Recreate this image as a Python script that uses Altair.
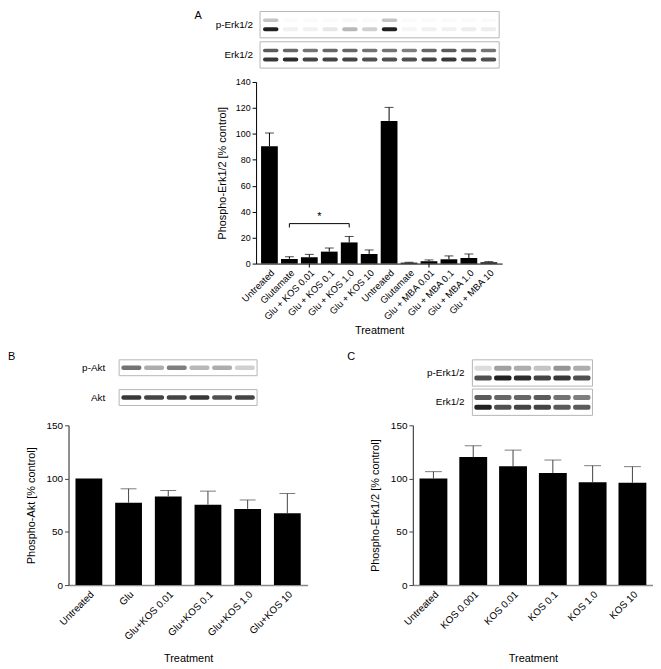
import json
import altair as alt
import pandas as pd

FONT = "Liberation Sans"

# ---------------- Panel A data ----------------
a_labels = ["Untreated", "Glutamate", "Glu + KOS 0.01", "Glu + KOS 0.1", "Glu + KOS 1.0",
            "Glu + KOS 10", "Untreated", "Glutamate", "Glu + MBA 0.01", "Glu + MBA 0.1",
            "Glu + MBA 1.0", "Glu + MBA 10"]
a_values = [90.5, 3.6, 4.8, 9.2, 16.3, 7.4, 110, 0.7, 1.8, 3.3, 4.3, 1.0]
a_sem = [10.2, 1.7, 2.3, 2.8, 4.6, 3.1, 10.4, 0.3, 1.0, 2.6, 3.1, 0.5]
a_sig_from, a_sig_to, a_sig_y, a_sig_drop = 1, 4, 30.8, 27.8
a_group_ticks = [2, 8]

a_blot_rows = ["p-Erk1/2", "Erk1/2"]
a_perk_upper = [0.25, 0.02, 0.02, 0.02, 0.03, 0.02, 0.25, 0.02, 0.02, 0.02, 0.02, 0.02]
a_perk_lower = [0.95, 0.06, 0.06, 0.1, 0.3, 0.2, 0.95, 0.04, 0.06, 0.06, 0.08, 0.08]
a_erk_upper = [0.7, 0.65, 0.6, 0.65, 0.65, 0.6, 0.6, 0.55, 0.65, 0.7, 0.65, 0.6]
a_erk_lower = [0.85, 0.9, 0.8, 0.8, 0.8, 0.75, 0.75, 0.75, 0.8, 0.85, 0.8, 0.75]

# ---------------- Panel B data ----------------
b_labels = ["Untreated", "Glu", "Glu+KOS 0.01", "Glu+KOS 0.1", "Glu+KOS 1.0", "Glu+KOS 10"]
b_values = [100, 77.4, 83.2, 75.5, 71.5, 67.4]
b_sem = [0, 13.0, 5.6, 12.7, 8.4, 18.6]
b_blot_rows = ["p-Akt", "Akt"]
b_pakt = [0.6, 0.35, 0.55, 0.3, 0.35, 0.2]
b_akt = [0.85, 0.8, 0.8, 0.85, 0.75, 0.8]

# ---------------- Panel C data ----------------
c_labels = ["Untreated", "KOS 0.001", "KOS 0.01", "KOS 0.1", "KOS 1.0", "KOS 10"]
c_values = [100, 120.2, 111.5, 105.3, 96.6, 96.0]
c_sem = [6.5, 10.6, 15.2, 12.1, 15.5, 15.2]
c_blot_rows = ["p-Erk1/2", "Erk1/2"]
c_perk_upper = [0.15, 0.4, 0.35, 0.25, 0.45, 0.35]
c_perk_lower = [0.75, 0.95, 0.9, 0.8, 0.85, 0.75]
c_erk_upper = [0.7, 0.65, 0.65, 0.7, 0.6, 0.55]
c_erk_lower = [0.95, 0.75, 0.8, 0.8, 0.7, 0.7]


def bar_panel(labels, values, sems, width, height, ymax, ystep, pi, po, ytitle,
              cap, err_color, xdom_color, xdom_width, ydom_color, ydom_width,
              ylab_size, ytitle_pad, xtitle_pad, xlab_size):
    df = pd.DataFrame({"key": list(range(len(labels))), "value": values, "sem": sems})
    df["hi"] = df["value"] + df["sem"]
    label_expr = json.dumps(labels) + "[datum.value]"
    xenc = alt.X("key:O",
                 scale=alt.Scale(paddingInner=pi, paddingOuter=po),
                 axis=alt.Axis(title="Treatment", labelExpr=label_expr, labelAngle=-45,
                               ticks=False, labelOverlap=False, labelFlush=False,
                               domainColor=xdom_color, domainWidth=xdom_width,
                               labelPadding=4, titlePadding=xtitle_pad,
                               labelFontSize=xlab_size, titleFontSize=11))
    yscale = alt.Scale(domain=[0, ymax], nice=False)
    yaxis = alt.Axis(title=ytitle, values=list(range(0, ymax + 1, ystep)), tickSize=4,
                     tickColor=ydom_color, domainColor=ydom_color, domainWidth=ydom_width,
                     labelPadding=2, labelFontSize=ylab_size, titleFontSize=11,
                     titlePadding=ytitle_pad, grid=False)
    base = alt.Chart(df).encode(x=xenc)
    bars = base.mark_bar(color="black").encode(
        y=alt.Y("value:Q", scale=yscale, axis=yaxis))
    rule = base.mark_rule(color=err_color, strokeWidth=1).encode(
        y=alt.Y("value:Q", scale=yscale, axis=yaxis), y2="hi:Q"
    ).transform_filter("datum.sem > 0")
    caps = base.mark_tick(color=err_color, size=cap, thickness=1).encode(
        y=alt.Y("hi:Q", scale=yscale, axis=yaxis)
    ).transform_filter("datum.sem > 0")
    return [bars, rule, caps], xenc, yscale, yaxis


def blot_panel(rows, band_df, sub_style, width, height, L, R, row_pi,
               lane_pi, lane_po, label_gap, letter, letter_x, letter_y):
    """sub_style: {sub: (offset from box centre, band thickness)}"""
    rowscale = alt.Scale(domain=rows, paddingInner=row_pi, paddingOuter=0)
    df_rows = pd.DataFrame({"row": rows})
    box = alt.Chart(df_rows).mark_rect(fill="white", stroke="#b5b5b5", strokeWidth=1).encode(
        x=alt.value(L), x2=alt.value(R),
        y=alt.Y("row:N", scale=rowscale, axis=None))
    band_layers = []
    for sub, (off, thick) in sub_style.items():
        band_layers.append(
            alt.Chart(band_df).transform_filter(alt.datum.sub == sub).mark_rect(
                color="#151515", cornerRadius=2, height=thick, yOffset=off).encode(
                x=alt.X("lane:O", scale=alt.Scale(range=[L, R], paddingInner=lane_pi,
                                                  paddingOuter=lane_po), axis=None),
                y=alt.Y("row:N", scale=rowscale, axis=None),
                opacity=alt.Opacity("intensity:Q", scale=None, legend=None)))
    labels = alt.Chart(df_rows).mark_text(align="right", baseline="middle", fontSize=10).encode(
        x=alt.value(L - label_gap),
        y=alt.Y("row:N", scale=rowscale, axis=None),
        text="row:N")
    let = alt.Chart(pd.DataFrame({"t": [letter]})).mark_text(
        align="left", baseline="top", fontSize=11).encode(
        x=alt.value(letter_x), y=alt.value(letter_y), text="t:N")
    return alt.layer(box, *band_layers, labels, let).properties(width=width, height=height)


def long_bands(rows, spec):
    recs = []
    for row, subdict in zip(rows, spec):
        for sub, vals in subdict.items():
            for i, v in enumerate(vals):
                recs.append({"row": row, "sub": sub, "lane": i, "intensity": v})
    return pd.DataFrame(recs)


# ---------------- Panel A ----------------
A_W, A_H = 248, 183
layersA, xA, yscaleA, yaxisA = bar_panel(
    a_labels, a_values, a_sem, A_W, A_H, 140, 20, 0.16, 0.25,
    "Phospho-Erk1/2 [% control]", 9, "black", "black", 1, "black", 1, 9, 8, 3, 9.5)

sig_df = pd.DataFrame({"k1": [a_sig_from], "k2": [a_sig_to], "y": [a_sig_y]})
sig_line = alt.Chart(sig_df).mark_rule(color="black").encode(
    x=alt.X("k1:O", bandPosition=0.5), x2=alt.X2("k2:O", bandPosition=0.5),
    y=alt.Y("y:Q", scale=yscaleA, axis=yaxisA))
sig_ends_df = pd.DataFrame({"k": [a_sig_from, a_sig_to], "y": [a_sig_y] * 2,
                            "y0": [a_sig_drop] * 2})
sig_ends = alt.Chart(sig_ends_df).mark_rule(color="black").encode(
    x=alt.X("k:O"), y=alt.Y("y0:Q", scale=yscaleA, axis=yaxisA), y2="y:Q")
star_df = pd.DataFrame({"k": [(a_sig_from + a_sig_to + 1) // 2], "y": [a_sig_y + 1.5], "t": ["*"]})
star = alt.Chart(star_df).mark_text(fontSize=11, baseline="bottom", dx=-10).encode(
    x=alt.X("k:O"), y=alt.Y("y:Q", scale=yscaleA, axis=yaxisA), text="t:N")
gt_df = pd.DataFrame({"k": a_group_ticks})
gticks = alt.Chart(gt_df).mark_rule(color="black").encode(
    x=alt.X("k:O"), y=alt.value(A_H), y2=alt.value(A_H + 4))

barsA = alt.layer(*layersA, sig_line, sig_ends, star, gticks).properties(width=A_W, height=A_H)

bandsA = long_bands(a_blot_rows, [{"u": a_perk_upper, "l": a_perk_lower},
                                  {"u": a_erk_upper, "l": a_erk_lower}])
blotA = blot_panel(a_blot_rows, bandsA, {"u": (-4.5, 3.5), "l": (4.5, 4)}, A_W, 57, 4, 245,
                   0.13, 0.22, 0.15, 7, "A", -62, -1)
panelA = alt.vconcat(blotA, barsA, spacing=14, bounds="flush")

# ---------------- Panel B ----------------
B_W, B_H = 241, 161
layersB, _, _, _ = bar_panel(
    b_labels, b_values, b_sem, B_W, B_H, 150, 50, 0.325, 0.175,
    "Phospho-Akt [% control]", 16, "#444444", "#8a8a8a", 1.6, "#444444", 1.2, 10, 10, 11, 10)
barsB = alt.layer(*layersB).properties(width=B_W, height=B_H)
bandsB = long_bands(b_blot_rows, [{"m": b_pakt}, {"m": b_akt}])
blotB = blot_panel(b_blot_rows, bandsB, {"m": (0, 4.5)}, B_W, 46, 51, 190, 0.467,
                   0.12, 0.1, 14, "B", -61, -9)
panelB = alt.vconcat(blotB, barsB, spacing=20, bounds="flush")

# ---------------- Panel C ----------------
C_W, C_H = 242, 161
layersC, _, _, _ = bar_panel(
    c_labels, c_values, c_sem, C_W, C_H, 150, 50, 0.3, 0.167,
    "Phospho-Erk1/2 [% control]", 17, "#444444", "#8a8a8a", 1.6, "#444444", 1.2, 10, 10, 22, 10)
barsC = alt.layer(*layersC).properties(width=C_W, height=C_H)
bandsC = long_bands(c_blot_rows, [{"u": c_perk_upper, "l": c_perk_lower},
                                  {"u": c_erk_upper, "l": c_erk_lower}])
blotC = blot_panel(c_blot_rows, bandsC, {"u": (-4.75, 5), "l": (5.0, 5)}, C_W, 56, 60, 181,
                   0.10, 0.12, 0.1, 8, "C", -66, -9)
panelC = alt.vconcat(blotC, barsC, spacing=10, bounds="flush")

# ---------------- Layout ----------------
# (nested concat groups count as zero size under "flush", so spacings are offsets)
spacer = alt.Chart(pd.DataFrame({"a": [0]})).mark_point(opacity=0, size=1).encode(
    x=alt.value(0), y=alt.value(20)).properties(width=1, height=1)
rowA = alt.hconcat(spacer, panelA, spacing=188, bounds="flush")
rowBC = alt.hconcat(panelB, panelC, spacing=347, bounds="flush")

chart = alt.vconcat(rowA, rowBC, spacing=351, bounds="flush").properties(
    padding=0
).configure(font=FONT).configure_view(stroke=None).configure_axis(
    labelColor="black", titleColor="black", titleFontWeight="normal",
    labelFont=FONT, titleFont=FONT
).configure_text(font=FONT, color="black")

chart.save("out.html", embed_options={"renderer": "svg", "actions": False})
